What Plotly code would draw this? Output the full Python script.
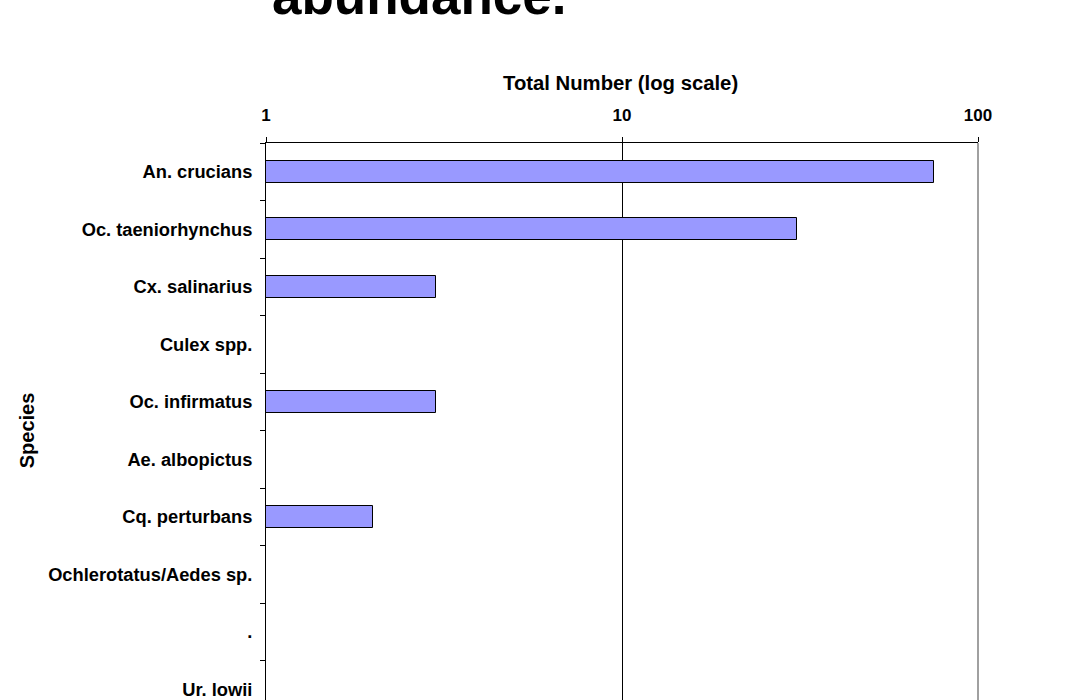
import plotly.graph_objects as go

# Species listed top to bottom, with their total trap counts
species = [
    "An. crucians",
    "Oc. taeniorhynchus",
    "Cx. salinarius",
    "Culex spp.",
    "Oc. infirmatus",
    "Ae. albopictus",
    "Cq. perturbans",
    "Ochlerotatus/Aedes sp.",
    ".",
    "Ur. lowii",
]
totals = [75, 31, 3, 1, 3, 1, 2, 1, 1, 1]

x_tick_values = [1, 10, 100]
x_tick_labels = ["1", "10", "100"]

FONT = "Liberation Sans, Arial, Helvetica, sans-serif"

W, H = 1078, 700
ML, MR, MT, MB = 265.7, 100.3, 143, 0
plot_h = H - MT - MB

fig = go.Figure()
fig.add_trace(go.Bar(
    y=species,
    x=totals,
    orientation="h",
    width=0.39,
    marker=dict(color="#9999FF", line=dict(color="#000000", width=1)),
    hoverinfo="x+y",
))

fig.update_layout(
    width=W,
    height=H,
    margin=dict(l=ML, r=MR, t=MT, b=MB, pad=0),
    paper_bgcolor="white",
    plot_bgcolor="white",
    showlegend=False,
    font=dict(family=FONT, color="black"),
    bargap=0,
    xaxis=dict(
        type="log",
        side="top",
        range=[0, 2],
        tickvals=x_tick_values,
        ticktext=[f"<b>{t}</b>" for t in x_tick_labels],
        tickfont=dict(size=17, family=FONT, color="black"),
        ticks="outside",
        ticklen=5,
        tickcolor="black",
        ticklabelstandoff=9,
        showline=True,
        linecolor="black",
        linewidth=1,
        showgrid=True,
        gridcolor="black",
        gridwidth=1,
        zeroline=False,
        fixedrange=True,
    ),
    yaxis=dict(
        type="category",
        categoryorder="array",
        categoryarray=species,
        range=[9.187, -0.5],
        tickvals=species,
        ticktext=[f"<b>{s}</b>" for s in species],
        tickfont=dict(size=18.3, family=FONT, color="black"),
        ticks="outside",
        tickson="boundaries",
        ticklen=5,
        tickcolor="black",
        ticklabelstandoff=9,
        showline=True,
        linecolor="black",
        linewidth=1,
        showgrid=False,
        zeroline=False,
        fixedrange=True,
    ),
)

# Gray frame edge on the right side of the plot area
fig.add_shape(type="line", xref="paper", yref="paper", x0=1, x1=1, y0=0, y1=1,
              line=dict(color="#808080", width=1.5), layer="above")


def px_x(px):
    return (px - ML) / (W - ML - MR)


def px_y(py):
    return (H - MB - py) / plot_h


fig.add_annotation(
    text="<b>abundance.</b>",
    xref="paper", yref="paper",
    x=px_x(270), y=px_y(-5),
    xanchor="left", yanchor="middle",
    showarrow=False,
    font=dict(size=53, family=FONT, color="black"),
)
fig.add_annotation(
    text="<b>Total Number (log scale)</b>",
    xref="paper", yref="paper",
    x=px_x(620.5), y=px_y(83),
    xanchor="center", yanchor="middle",
    showarrow=False,
    font=dict(size=20.3, family=FONT, color="black"),
)
fig.add_annotation(
    text="<b>Species</b>",
    xref="paper", yref="paper",
    x=px_x(27), y=px_y(430),
    xanchor="center", yanchor="middle",
    textangle=-90,
    showarrow=False,
    font=dict(size=20, family=FONT, color="black"),
)

fig.write_html("out.html", config={"displayModeBar": False})
